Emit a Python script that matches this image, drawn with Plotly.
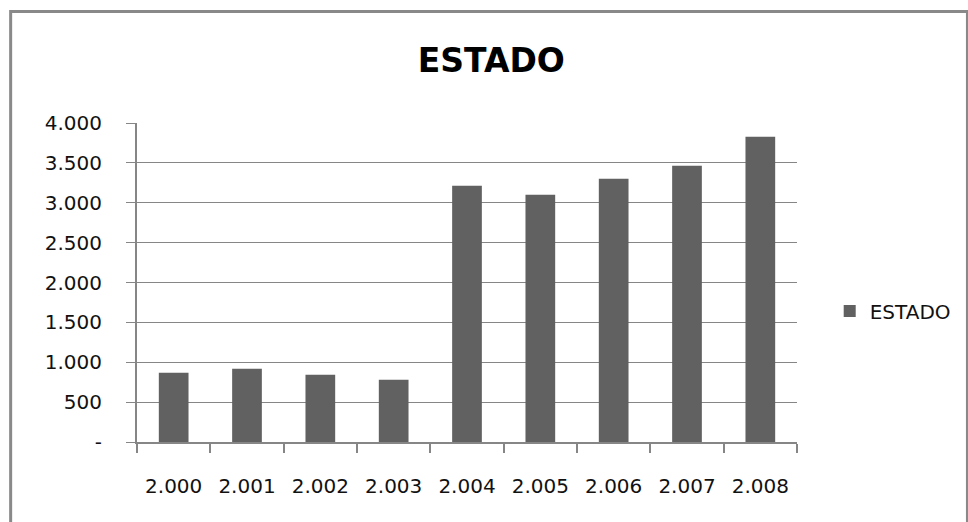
import plotly.graph_objects as go

# Yearly totals for ESTADO (years written with a thousands dot, as in the source sheet)
years = ["2.000", "2.001", "2.002", "2.003", "2.004", "2.005", "2.006", "2.007", "2.008"]
estado = [869, 919, 844, 781, 3214, 3101, 3302, 3465, 3828]

y_tick_vals = [0, 500, 1000, 1500, 2000, 2500, 3000, 3500, 4000]
y_tick_text = ["-", "500", "1.000", "1.500", "2.000", "2.500", "3.000", "3.500", "4.000"]

W, H = 968, 522
ML, MR, MT, MB = 137, 165, 123, 80
plot_w = W - ML - MR
plot_h = H - MT - MB

def px_x(px):
    return (px - ML) / plot_w

def px_y(py):
    return (H - MB - py) / plot_h

grid = "#868686"
font = "DejaVu Sans"

fig = go.Figure()
fig.add_trace(go.Bar(
    x=years, y=estado, name="ESTADO",
    marker=dict(color="#616161", line=dict(width=0)),
))

fig.update_layout(
    width=W, height=H,
    margin=dict(l=ML, r=MR, t=MT, b=MB),
    paper_bgcolor="white", plot_bgcolor="white",
    bargap=0.595,
    font=dict(family=font, size=20, color="#111111"),
    title=dict(
        text="<b>ESTADO</b>", font=dict(family=font, size=33, color="#000000"),
        x=px_x(494.5), xref="paper", xanchor="center",
        y=1 - 60 / H, yref="container", yanchor="middle",
    ),
    showlegend=True,
    legend=dict(
        x=px_x(836), xanchor="left", y=px_y(311), yanchor="middle",
        font=dict(family=font, size=20, color="#111111"),
        bgcolor="rgba(0,0,0,0)", itemsizing="constant",
    ),
    xaxis=dict(
        type="category", showgrid=False,
        showline=True, linecolor=grid, linewidth=1.5,
        ticks="outside", ticklen=9, tickcolor=grid, tickwidth=1.5,
        tickson="boundaries", ticklabelstandoff=25,
        range=[-0.5, len(years) - 0.5],
    ),
    yaxis=dict(
        range=[0, 4000], tickvals=y_tick_vals, ticktext=y_tick_text,
        showgrid=True, gridcolor=grid, gridwidth=1,
        showline=True, linecolor=grid, linewidth=2,
        ticks="outside", ticklen=9, tickcolor=grid, tickwidth=1,
        ticklabelstandoff=20, zeroline=False,
    ),
    shapes=[dict(
        type="rect", xref="paper", yref="paper",
        x0=px_x(9.5), x1=px_x(975), y0=px_y(530), y1=px_y(11.5),
        line=dict(color="#898989", width=3), fillcolor="rgba(0,0,0,0)",
        layer="below",
    )],
)

fig.write_html("out.html")
